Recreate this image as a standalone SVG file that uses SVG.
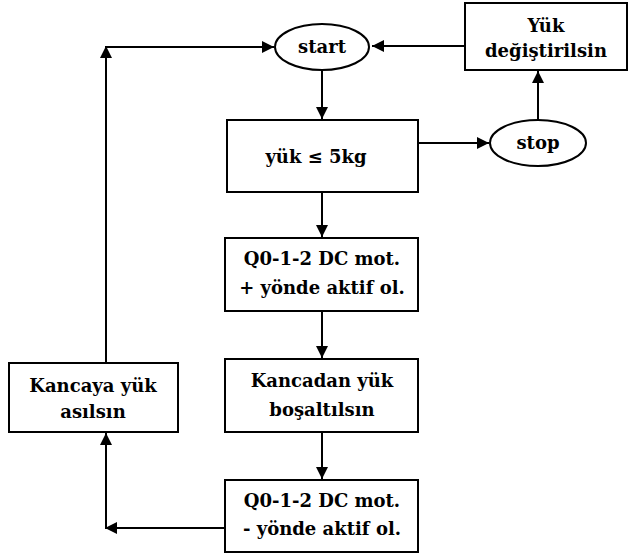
<svg xmlns="http://www.w3.org/2000/svg" width="629" height="555" viewBox="0 0 629 555">
<style>
.box{fill:#fff;stroke:#000;stroke-width:2}
.ln{fill:none;stroke:#000;stroke-width:2}
text{font-family:"DejaVu Serif","Liberation Serif",serif;font-weight:bold;font-size:18px;fill:#000;text-anchor:middle;dominant-baseline:central}
</style>
<defs>
<marker id="ah" viewBox="0 0 10 10" refX="10" refY="5" markerWidth="6.5" markerHeight="6" orient="auto" markerUnits="strokeWidth">
<path d="M0,0 L10,5 L0,10 z" fill="#000"/>
</marker>
</defs>
<rect width="629" height="555" fill="#fff"/>
<g id="connectors">
<path class="ln" d="M465,46 H372" marker-end="url(#ah)"/>
<path class="ln" d="M322,70 V119" marker-end="url(#ah)"/>
<path class="ln" d="M418,143 H489" marker-end="url(#ah)"/>
<path class="ln" d="M538,120 V71" marker-end="url(#ah)"/>
<path class="ln" d="M322,192 V237" marker-end="url(#ah)"/>
<path class="ln" d="M322,311 V358" marker-end="url(#ah)"/>
<path class="ln" d="M322,432 V479" marker-end="url(#ah)"/>
<path class="ln" d="M225,528 H105" marker-end="url(#ah)"/>
<path class="ln" d="M106,528 V433" marker-end="url(#ah)"/>
<path class="ln" d="M106,363 V46" marker-end="url(#ah)"/>
<path class="ln" d="M106,47 H274" marker-end="url(#ah)"/>
</g>
<g id="start"><ellipse class="box" cx="322" cy="47" rx="47" ry="23"/><text x="322" y="46">start</text></g>
<g id="yuk-degistir"><rect class="box" x="465" y="3" width="162" height="67"/><text x="546" y="25">Yük</text><text x="546" y="50">değiştirilsin</text></g>
<g id="yuk-5kg"><rect class="box" x="227" y="120" width="191" height="72"/><text x="316" y="156">yük ≤ 5kg</text></g>
<g id="stop"><ellipse class="box" cx="538" cy="143" rx="48" ry="23"/><text x="538" y="142">stop</text></g>
<g id="q0-plus"><rect class="box" x="225" y="238" width="193" height="73"/><text x="322" y="258">Q0-1-2 DC mot.</text><text x="322" y="287">+ yönde aktif ol.</text></g>
<g id="kancadan"><rect class="box" x="225" y="359" width="193" height="73"/><text x="322" y="380">Kancadan yük</text><text x="322" y="409">boşaltılsın</text></g>
<g id="q0-minus"><rect class="box" x="225" y="480" width="193" height="72"/><text x="322" y="500">Q0-1-2 DC mot.</text><text x="322" y="528">- yönde aktif ol.</text></g>
<g id="kancaya"><rect class="box" x="9" y="363" width="169" height="69"/><text x="93" y="385">Kancaya yük</text><text x="93" y="411">asılsın</text></g>
</svg>
